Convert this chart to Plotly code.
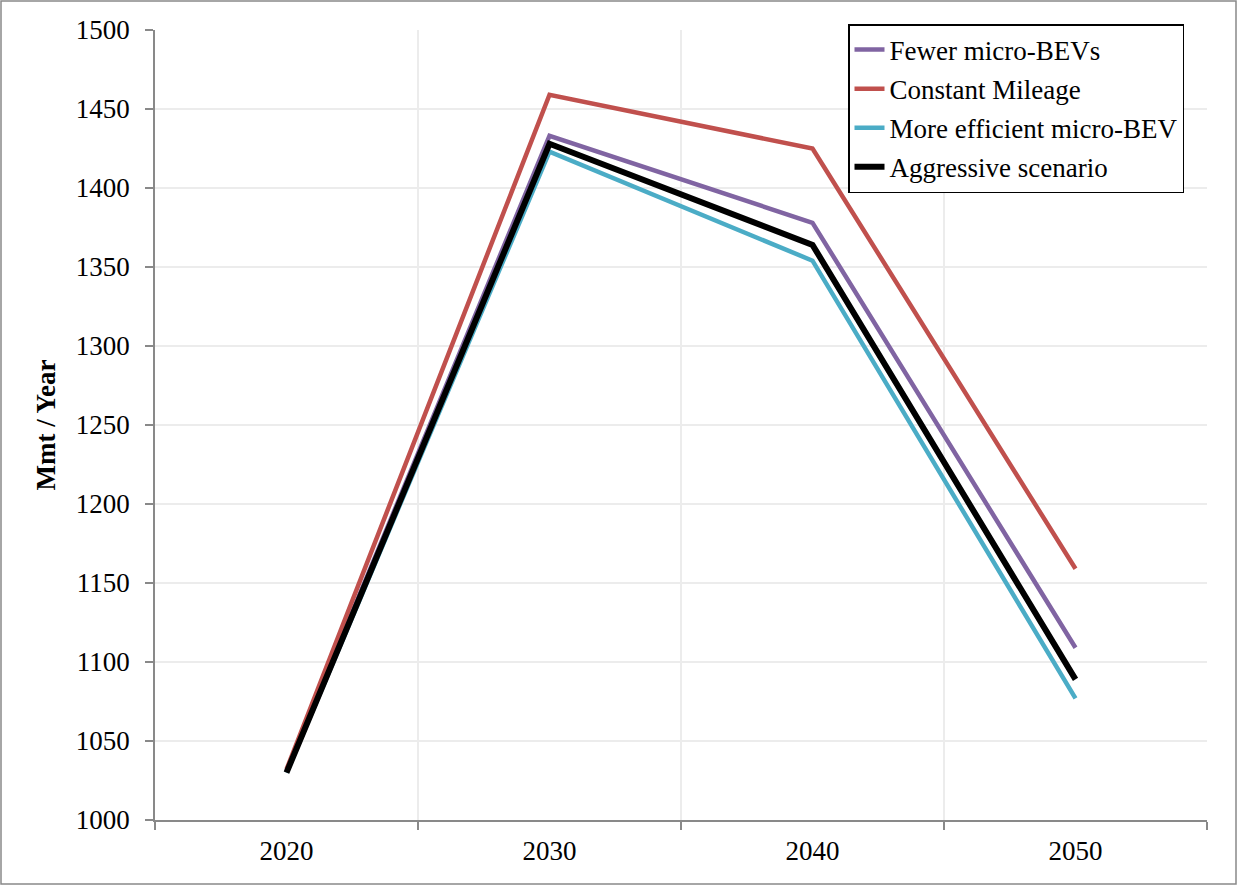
import plotly.graph_objects as go

years = ["2020", "2030", "2040", "2050"]
fewer_micro_bevs = [1031, 1433, 1378, 1109]
constant_mileage = [1032, 1459, 1425, 1159]
more_efficient = [1030, 1423, 1354, 1077]
aggressive = [1030, 1428, 1364, 1089]

series = [
    ("Fewer micro-BEVs", fewer_micro_bevs, "#8064a2", 4.5),
    ("Constant Mileage", constant_mileage, "#c0504d", 4.5),
    ("More efficient micro-BEV", more_efficient, "#4bacc6", 4.5),
    ("Aggressive scenario", aggressive, "#000000", 6),
]

FONT = "Liberation Serif"
fig = go.Figure()
for i, (name, vals, color, w) in enumerate(series):
    fig.add_trace(go.Scatter(
        x=years, y=vals, name=name, mode="lines",
        line=dict(color=color, width=w, shape="linear"),
        legendgroup=f"g{i}",
    ))

L, R, T, B = 155, 31, 30, 66
W, H = 1238, 886
pw, ph = W - L - R, H - T - B

fig.update_layout(
    width=W, height=H,
    margin=dict(l=L, r=R, t=T, b=B),
    paper_bgcolor="white", plot_bgcolor="white",
    font=dict(family=FONT, size=27, color="black"),
    showlegend=True,
    legend=dict(
        x=(848 - L) / pw, y=(H - B - 24) / ph, xanchor="left", yanchor="top",
        bgcolor="white", bordercolor="black", borderwidth=1.5,
        font=dict(family=FONT, size=27, color="black"),
        tracegroupgap=1,
    ),
    xaxis=dict(
        type="category", range=[-0.5, 3.5],
        tickson="boundaries", ticks="outside", ticklen=8, tickcolor="#898989", tickwidth=1.5,
        showline=True, linecolor="#898989", linewidth=1.5,
        showgrid=True, gridcolor="#ececec", gridwidth=1.5,
        tickfont=dict(family=FONT, size=27), ticklabelstandoff=6,
    ),
    yaxis=dict(
        range=[1000, 1500], dtick=50, tick0=1000,
        ticks="outside", ticklen=8, tickcolor="#898989", tickwidth=1.5,
        showline=True, linecolor="#898989", linewidth=1.5,
        showgrid=True, gridcolor="#ececec", gridwidth=1.5,
        tickfont=dict(family=FONT, size=27), ticklabelstandoff=10,
        title=dict(text="<b>Mmt / Year</b>", font=dict(family=FONT, size=27), standoff=12),
        zeroline=False,
    ),
    shapes=[dict(
        type="rect", xref="paper", yref="paper",
        x0=(1 - L) / pw, x1=(1236 - L) / pw,
        y0=(H - B - 884) / ph, y1=(H - B - 1) / ph,
        line=dict(color="#898989", width=1.5), fillcolor="rgba(0,0,0,0)", layer="below",
    )],
)

fig.write_html("out.html", config={"displayModeBar": False},
               post_script="document.body.style.margin='0';document.body.style.overflow='hidden';")
